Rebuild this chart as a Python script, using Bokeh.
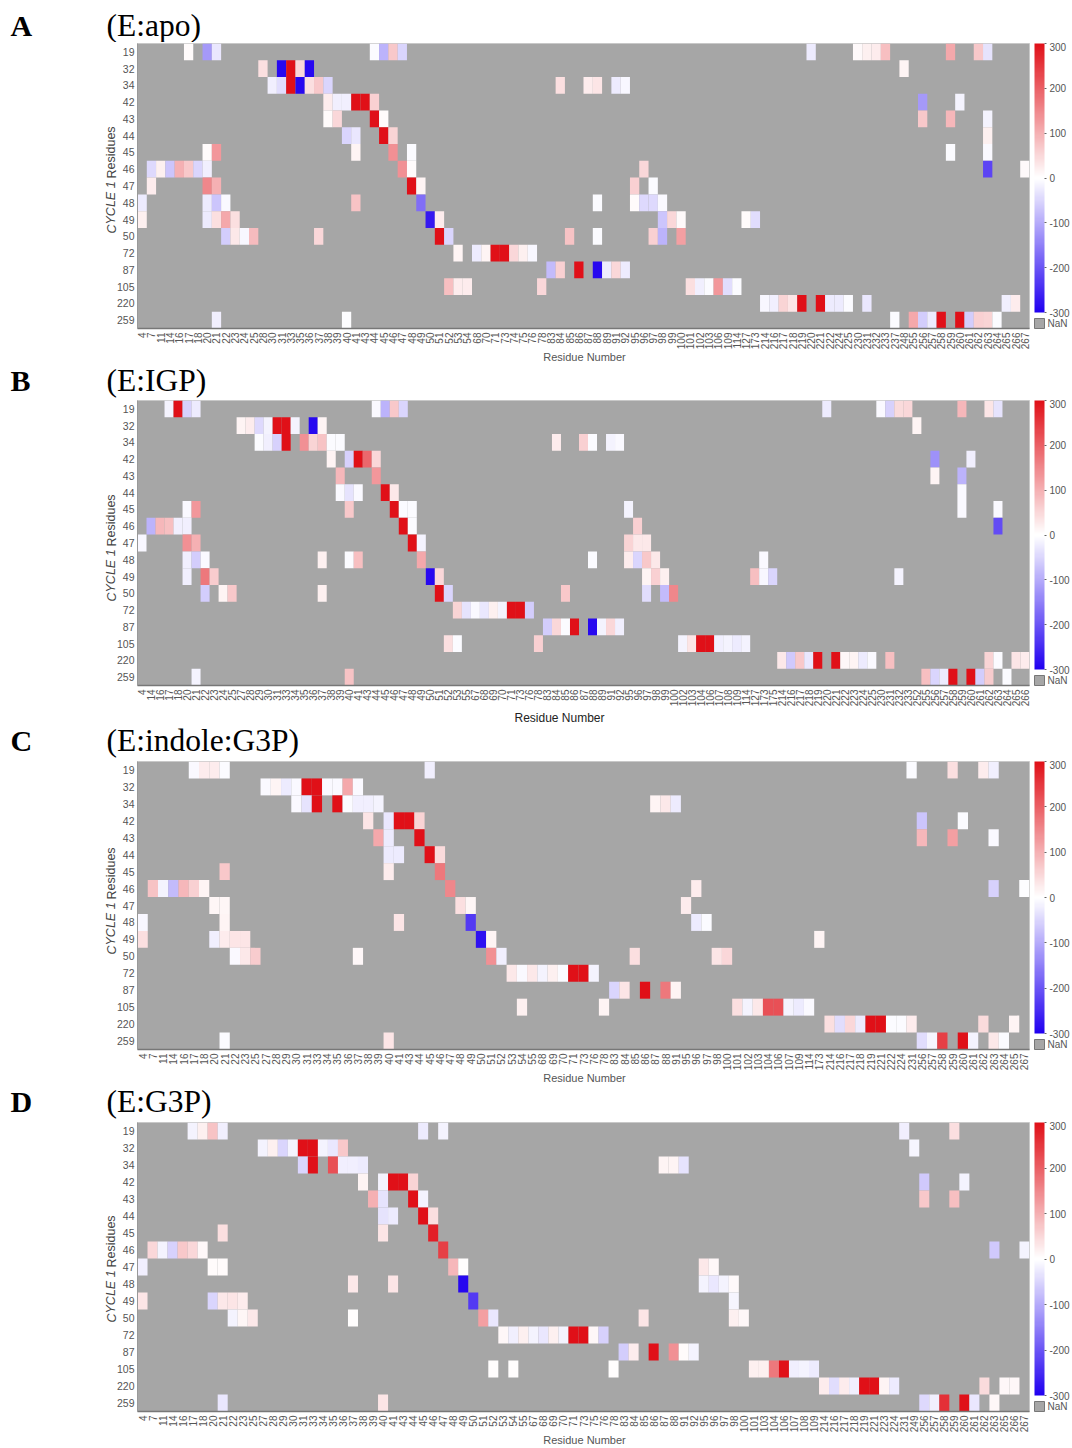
from bokeh.plotting import figure
from bokeh.layouts import column
from bokeh.models import (ColumnDataSource, LinearColorMapper, ColorBar, FixedTicker, FactorRange, Label, Range1d)
from bokeh.transform import transform
from bokeh.embed import file_html
from bokeh.resources import INLINE

cycle1_rows = [19, 32, 34, 42, 43, 44, 45, 46, 47, 48, 49, 50, 72, 87, 105, 220, 259]

residues_A = [4,7,11,14,16,17,18,20,21,22,23,24,25,28,30,31,33,35,36,37,38,39,40,41,43,44,45,46,47,48,49,50,51,52,53,54,68,70,71,73,74,75,76,78,83,84,85,86,87,88,89,91,92,95,96,97,98,99,100,101,102,103,106,109,114,127,173,214,216,217,218,219,220,221,222,224,225,230,231,232,233,237,248,255,256,257,258,259,260,261,262,263,264,265,266,267]
residues_B = [4,14,16,17,18,20,21,22,23,24,25,27,28,29,30,31,33,34,35,36,37,38,39,40,41,43,44,45,46,47,48,49,50,51,52,53,55,67,68,69,70,71,73,76,78,83,84,85,86,87,88,89,91,92,95,96,97,98,99,100,102,103,104,106,107,108,109,114,127,173,175,214,216,217,218,219,220,221,222,223,224,225,230,231,232,233,252,255,256,257,258,259,260,261,262,263,264,265,266]
residues_C = [4,7,11,14,16,17,18,20,21,22,23,25,27,28,29,30,31,33,34,35,36,37,38,39,40,41,43,44,45,46,47,48,49,50,51,52,53,54,55,68,69,70,71,73,76,78,83,84,85,86,87,88,91,95,96,97,98,100,101,102,103,104,106,107,109,114,173,214,216,217,218,219,221,222,224,231,256,257,258,259,260,261,262,263,264,265,267]
residues_D = [4,7,11,14,16,17,18,20,21,22,23,25,27,28,29,30,31,33,34,35,36,37,38,39,40,41,43,44,45,46,47,48,49,50,51,52,53,54,55,67,68,69,70,71,73,75,76,78,83,84,85,86,87,88,91,92,95,96,97,98,100,101,103,104,106,107,108,109,214,216,217,218,219,221,223,224,231,249,256,257,258,259,260,261,262,263,265,266,267]

cells_A = {
 19: {17:5,20:-120,21:-30,44:-5,45:-90,46:70,47:-50,220:-25,230:8,231:20,232:25,233:80,259:110,262:70,263:-35},
 32: {28:40,31:-290,33:300,35:50,36:-290,248:15},
 34: {30:-20,31:-40,33:300,35:-290,36:40,37:70,38:-50,84:40,87:25,88:35,91:-25,92:-10},
 42: {38:25,39:-20,40:-20,41:300,43:300,44:60,256:-120,260:-15},
 43: {38:5,39:50,44:300,45:5,256:70,259:90,263:-15},
 44: {40:-50,41:-30,45:300,46:55,263:20},
 45: {20:5,21:130,41:15,46:140,48:-5,259:-5,263:-8},
 46: {7:-45,11:20,14:-70,16:100,17:70,18:-50,20:-20,47:140,48:5,96:50,263:-220,267:8},
 47: {7:25,20:150,21:100,48:300,49:15,95:60,97:-5},
 48: {4:-25,20:-25,21:-70,22:-8,41:75,49:-170,88:-5,95:5,96:-45,97:-45,98:-8},
 49: {4:20,20:-25,21:40,22:110,23:40,50:-270,51:25,98:-70,99:50,100:8,127:5,173:-40},
 50: {22:-60,23:30,24:-10,25:85,37:50,51:300,52:-50,85:75,88:-5,97:60,98:-90,100:120},
 72: {53:15,68:-25,70:15,71:300,73:300,74:50,75:20,76:-10},
 87: {83:-80,84:60,86:300,88:-290,89:-25,91:50,92:-25},
 105: {52:80,53:25,54:25,78:50,101:40,102:-20,103:-5,106:130,109:-40,114:-5},
 220: {214:-10,216:-20,217:55,218:35,219:300,221:300,222:-25,224:-25,225:-5,231:-30,265:-20,266:25},
 259: {21:-20,40:-3,237:-5,255:110,256:-60,257:-25,258:300,260:300,261:-60,262:60,263:55,264:-5},
}
cells_B = {
 19: {17:-15,18:300,20:-55,21:-25,44:-8,45:-90,46:70,47:-50,220:-25,230:-8,231:-55,232:45,233:50,259:90,262:35,263:-35},
 32: {27:15,28:25,29:-45,30:-15,31:300,33:300,34:-15,36:-290,37:15,252:15},
 34: {29:-5,30:-20,31:-55,33:300,35:140,36:55,37:75,38:-5,39:-5,84:25,87:60,88:-5,91:-15,92:-8},
 42: {38:15,40:-55,41:300,43:190,44:50,256:-130,260:-20},
 43: {39:90,44:130,256:15,259:-90},
 44: {39:-8,40:-35,41:-8,45:300,46:30,259:-8},
 45: {20:-8,21:130,40:70,46:300,47:-5,48:-5,95:-15,259:-8,263:-8},
 46: {14:-90,16:90,17:80,18:-20,20:-20,47:300,48:-5,96:60,263:-210},
 47: {4:-10,20:140,21:100,48:300,49:-15,95:55,96:30,97:30},
 48: {20:-20,21:-60,22:-8,37:20,40:-5,41:80,49:110,88:-5,95:25,96:-50,97:70,98:30,173:-8},
 49: {20:-20,22:170,23:65,50:-290,51:50,97:15,98:60,99:20,127:80,173:-10,175:-50,232:-15},
 50: {22:-60,24:15,25:70,37:20,51:300,52:-50,85:70,97:-40,99:-80,100:150},
 72: {53:55,55:-35,67:-8,68:-30,69:20,70:-15,71:300,73:300,76:-60},
 87: {83:-60,84:50,85:-5,86:300,88:-290,89:-15,91:50,92:-20},
 105: {52:40,53:-5,78:60,102:-15,103:35,104:300,106:300,107:-20,108:-15,109:-25,114:-15},
 220: {214:30,216:-65,217:70,218:-30,219:300,221:300,222:10,223:15,224:-25,225:-8,231:80,262:55,263:-5,265:35,266:25},
 259: {21:-15,40:75,255:80,256:-50,257:-25,258:300,260:300,261:-60,262:65,264:-5},
}
cells_C = {
 19: {17:-8,18:25,20:25,21:-5,45:-20,231:-5,259:40,262:25,263:-20},
 32: {27:-8,28:15,29:-25,30:-8,31:300,33:300,34:-8,35:-8,36:110,37:-8},
 34: {30:-8,31:-35,33:300,35:300,36:-5,37:-20,38:-20,39:-15,87:15,88:30,91:-25},
 42: {38:35,40:-30,41:300,43:300,44:55,256:-70,260:-5},
 43: {39:110,40:-25,44:300,256:90,259:120,263:-8},
 44: {40:-25,41:-25,45:300,46:45},
 45: {21:70,40:25,46:170},
 46: {7:75,11:-15,14:-80,16:90,17:60,18:15,47:150,96:25,263:-55,267:-3},
 47: {20:12,21:12,48:40,49:12,95:25},
 48: {4:-10,21:15,41:35,49:-230,96:-25,97:-5},
 49: {4:40,20:-20,21:25,22:35,23:35,50:-280,51:15,173:15},
 50: {22:-8,23:30,25:65,37:10,51:140,52:-20,85:40,98:35,100:50},
 72: {53:30,54:-8,55:30,68:-15,69:20,70:-5,71:300,73:300,76:-15},
 87: {83:-50,84:35,86:300,88:170,91:15},
 105: {54:20,78:15,101:40,102:-15,103:30,104:220,106:220,107:-15,109:-25,114:-8},
 220: {214:40,216:-40,217:50,218:-25,219:300,221:300,222:-5,224:-5,231:25,262:45,265:15},
 259: {21:-5,40:35,256:-40,257:-12,258:240,260:300,261:-15,263:30,264:-5},
}
cells_D = {
 19: {17:-15,18:20,20:75,21:-20,45:-25,47:-15,231:-20,259:40},
 32: {27:-15,28:20,29:-50,30:-15,31:300,33:300,34:-15,35:-30,36:70,249:-12},
 34: {31:-50,33:300,35:220,36:-20,37:-20,38:-25,87:15,88:15,91:-35},
 42: {38:15,40:-15,41:300,43:300,44:55,256:-65,260:-15},
 43: {39:100,40:-35,44:300,45:-15,256:70,259:80},
 44: {40:-35,41:-25,45:300,46:40},
 45: {21:40,40:35,46:280},
 46: {7:50,11:-15,14:-55,16:70,17:50,18:10,47:240,263:-65,267:-15},
 47: {4:-20,20:5,21:5,48:90,49:3,95:30,96:10},
 48: {37:30,41:35,49:-290,95:-15,96:-30,97:-15,98:8},
 49: {4:35,20:-50,21:30,22:35,23:25,50:-230,98:-12},
 50: {22:-15,23:12,25:30,37:3,51:120,52:-30,85:35,98:20,100:10},
 72: {53:10,54:-20,55:20,67:-15,68:-30,69:20,70:-15,71:300,73:300,75:10,76:-55},
 87: {83:-60,84:25,86:300,88:140,91:5,92:-15},
 105: {52:3,54:3,78:3,101:20,103:20,104:170,106:300,107:-20,108:-15,109:-25},
 220: {214:25,216:-40,217:25,218:-20,219:300,221:300,223:15,224:-25,262:45,265:10,266:10},
 259: {21:-30,40:35,256:-45,257:-20,258:260,260:300,261:-30,263:10},
}

panel_letters = ["A", "B", "C", "D"]
panel_titles = ["(E:apo)", "(E:IGP)", "(E:indole:G3P)", "(E:G3P)"]
panel_residues = [residues_A, residues_B, residues_C, residues_D]
panel_cells = [cells_A, cells_B, cells_C, cells_D]

# page layout, all in picture pixels
panel_top = [0, 364, 724, 1085]
page_bottom = 1447
frame_top = [43, 400, 761, 1122]
frame_h = [285, 285, 288, 289]
title_y = [25, 380, 740, 1101]
xlabel_x = [584, 559, 584, 584]
xlabel_y = [356, 717, 1077, 1439]
xlabel_col = ["#555555", "#222222", "#555555", "#555555"]
xlabel_size = ["11px", "12px", "11px", "11px"]
ylabel_bottom = [233, 601, 954, 1322]

W = 1072
LEFT = 137
FRAME_W = 892

# colour ramp from blue through white to red
low, high = (32, 0, 240), (224, 16, 24)
n = 128
palette = []
for i in range(n):
    t = i / (n - 1)
    palette.append("#%02x%02x%02x" % tuple(round(c + (255 - c) * t) for c in low))
for i in range(n):
    t = i / (n - 1)
    palette.append("#%02x%02x%02x" % tuple(round(255 + (c - 255) * t) for c in high))
mapper = LinearColorMapper(palette=palette, low=-300, high=300, nan_color="#a6a6a6")
bar_ticks = [-300, -200, -100, 0, 100, 200, 300]

GRAY = "#a6a6a6"
rows = []
for k in range(4):
    # heading strip: the panel letter and the complex name
    main_top = frame_top[k] - 1
    head_h = main_top - panel_top[k]
    h = figure(width=W, height=head_h, x_range=Range1d(0, W), y_range=Range1d(head_h, 0),
               x_axis_location=None, y_axis_location=None, output_backend="svg", toolbar_location=None,
               min_border=0, outline_line_color=None, frame_align=False)
    h.grid.visible = False
    h.add_layout(Label(x=10, y=title_y[k] - panel_top[k], x_units="canvas", y_units="canvas", text=panel_letters[k],
                       text_font="Liberation Serif", text_font_size="30px", text_font_style="bold",
                       text_color="#000000", text_baseline="middle"))
    h.add_layout(Label(x=106, y=title_y[k] - panel_top[k], x_units="canvas", y_units="canvas", text=panel_titles[k],
                       text_font="Liberation Serif", text_font_size="31.5px",
                       text_color="#000000", text_baseline="middle"))
    rows.append(h)

    xs, ys, vals = [], [], []
    for row, rd in panel_cells[k].items():
        for res, v in rd.items():
            xs.append(str(res)); ys.append(str(row)); vals.append(v)
    src = ColumnDataSource(dict(x=xs, y=ys, v=vals))
    x_f = [str(r) for r in panel_residues[k]]
    y_f = [str(r) for r in reversed(cycle1_rows)]
    main_bottom = panel_top[k + 1] if k < 3 else page_bottom
    canvas_h = main_bottom - main_top
    p = figure(width=W, height=canvas_h, x_range=FactorRange(*x_f, range_padding=0),
               y_range=FactorRange(*y_f, range_padding=0), output_backend="svg", toolbar_location=None,
               min_border_left=LEFT, min_border_right=W - LEFT - FRAME_W, min_border_top=1,
               min_border_bottom=canvas_h - 1 - frame_h[k],
               frame_width=FRAME_W, frame_height=frame_h[k], frame_align=False,
               background_fill_color=GRAY, outline_line_color="#c8c8c8", outline_line_width=1)
    p.grid.visible = False
    p.rect(x="x", y="y", width=1, height=1, source=src, fill_color=transform("v", mapper), line_color=None)

    p.xaxis.major_label_orientation = 1.5708
    p.xaxis.major_label_text_font = "Liberation Sans"
    p.xaxis.major_label_text_font_size = "10px"
    p.xaxis.major_label_text_color = "#555555"
    p.xaxis.major_label_standoff = 4
    p.xaxis.major_tick_line_color = None
    p.xaxis.major_tick_out = 0
    p.xaxis.major_tick_in = 0
    p.xaxis.axis_line_color = "#777777"
    p.xaxis.axis_line_width = 1.5
    p.yaxis.major_label_text_font = "Liberation Sans"
    p.yaxis.major_label_text_font_size = "10.5px"
    p.yaxis.major_label_text_color = "#555555"
    p.yaxis.major_label_standoff = 3
    p.yaxis.major_tick_line_color = None
    p.yaxis.major_tick_out = 0
    p.yaxis.major_tick_in = 0
    p.yaxis.axis_line_color = "#999999"

    bar_h = frame_h[k] - 16
    p.add_layout(ColorBar(color_mapper=mapper, width=10, height=bar_h, padding=0, margin=0,
                          location=(FRAME_W + 5, 16),
                          ticker=FixedTicker(ticks=bar_ticks),
                          major_label_overrides={t: str(t) for t in bar_ticks},
                          major_label_text_font="Liberation Sans", major_label_text_font_size="10px",
                          major_label_text_color="#555555", label_standoff=3,
                          major_tick_line_color="#666666", major_tick_in=0, major_tick_out=2,
                          bar_line_color=None))
    # NaN key beneath the colour bar: a one-colour bar with a single label
    p.add_layout(ColorBar(color_mapper=LinearColorMapper(palette=[GRAY], low=0, high=1), width=10, height=10,
                          padding=0, margin=0, location=(FRAME_W + 5, 0),
                          ticker=FixedTicker(ticks=[0.5]), major_label_overrides={0.5: "NaN"},
                          major_label_text_font="Liberation Sans", major_label_text_font_size="10px",
                          major_label_text_color="#555555", label_standoff=3,
                          major_tick_line_color=None, bar_line_color="#777777", bar_line_width=1))

    def lab(side, text, page_x, page_y, **kw):
        # a label kept in a side panel is not clipped to the frame
        p.add_layout(Label(x=page_x, y=page_y - main_top, x_units="canvas", y_units="canvas", text=text, **kw), side)

    lab("below", "Residue Number", xlabel_x[k], xlabel_y[k], text_font="Liberation Sans",
        text_font_size=xlabel_size[k], text_color=xlabel_col[k], text_align="center", text_baseline="middle")
    y1 = ylabel_bottom[k]
    lab("left", "CYCLE 1", 111, y1, text_font="Liberation Sans", text_font_size="12.5px", text_font_style="italic",
        text_color="#444444", text_align="left", text_baseline="middle", angle=1.5708)
    lab("left", "Residues", 111, y1 - 55, text_font="Liberation Sans", text_font_size="12.5px",
        text_color="#444444", text_align="left", text_baseline="middle", angle=1.5708)
    rows.append(p)

page = column(*rows, spacing=0)
open("out.html", "w").write(file_html(page, INLINE))
